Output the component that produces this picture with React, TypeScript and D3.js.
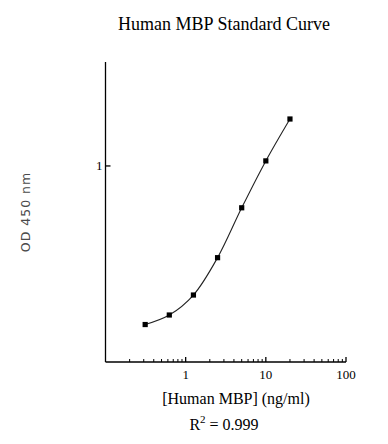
import React from 'react';
import { scaleLog, line, curveCatmullRom } from 'd3';

const concentrations = [0.3125, 0.625, 1.25, 2.5, 5, 10, 20];
const odValues = [0.192, 0.212, 0.261, 0.385, 0.647, 1.054, 1.63];
const xMajorTicks = [1, 10, 100];
const xTickLabels = ['1', '10', '100'];
const yMajorTicks = [1];
const yTickLabels = ['1'];

const width = 388;
const height = 444;
const margin = { top: 62, right: 42, bottom: 82, left: 105.5 };
const font = '"Liberation Serif", "Times New Roman", serif';

const App: React.FC = () => {
    const xScale = scaleLog()
        .domain([0.1, 100])
        .range([margin.left, width - margin.right]);

    const yScale = scaleLog()
        .domain([0.13, 2.95])
        .range([height - margin.bottom, margin.top]);

    // minor ticks 2..9 in each decade
    const xMinor: number[] = [];
    [0.1, 1, 10].forEach(d => {
        for (let k = 2; k <= 9; k++) xMinor.push(d * k);
    });

    const pts = concentrations.map((c, i) => [xScale(c), yScale(odValues[i])] as [number, number]);
    const curve = line<[number, number]>()
        .x(d => d[0])
        .y(d => d[1])
        .curve(curveCatmullRom.alpha(0.5));

    const x0 = margin.left;
    const y0 = height - margin.bottom;

    return (
        <svg width={width} height={height} style={{ position: 'absolute', left: 0, top: 0, background: '#fff' }}>
            <text x={224} y={30} textAnchor="middle" fontFamily={font} fontSize={18}>
                Human MBP Standard Curve
            </text>

            {/* axes */}
            <g stroke="#000" strokeWidth={1.3} fill="none">
                <line x1={x0} y1={margin.top} x2={x0} y2={y0} />
                <line x1={x0} y1={y0} x2={xScale(100)} y2={y0} />
                {xMajorTicks.map(t => (
                    <line key={t} x1={xScale(t)} x2={xScale(t)} y1={y0} y2={y0 - 5} />
                ))}
                {xMinor.map(t => (
                    <line key={t} x1={xScale(t)} x2={xScale(t)} y1={y0} y2={y0 - 3} strokeWidth={1} />
                ))}
                {yMajorTicks.map(t => (
                    <line key={t} x1={x0} x2={x0 + 5} y1={yScale(t)} y2={yScale(t)} />
                ))}
            </g>

            {xMajorTicks.map((t, i) => (
                <text key={t} x={xScale(t)} y={y0 + 17} textAnchor="middle" fontFamily={font} fontSize={13}>
                    {xTickLabels[i]}
                </text>
            ))}
            {yMajorTicks.map((t, i) => (
                <text key={t} x={x0 - 3} y={yScale(t) + 4.5} textAnchor="end" fontFamily={font} fontSize={13}>
                    {yTickLabels[i]}
                </text>
            ))}

            {/* fitted curve */}
            <path d={curve(pts) || ''} fill="none" stroke="#222" strokeWidth={1.1} />

            {pts.map((p, i) => (
                <rect key={i} x={p[0] - 2.6} y={p[1] - 2.6} width={5.2} height={5.2} fill="#000" />
            ))}

            <text
                transform={`translate(${30},${212}) rotate(-90)`}
                textAnchor="middle"
                fontFamily='"DejaVu Sans", sans-serif'
                fontSize={12.5}
                letterSpacing={1}
                fill="#4a4a4a"
            >
                OD 450 nm
            </text>

            <text x={236} y={404} textAnchor="middle" fontFamily={font} fontSize={16}>
                [Human MBP] (ng/ml)
            </text>
            <text x={224} y={430} textAnchor="middle" fontFamily={font} fontSize={16}>
                R<tspan fontSize={11} dy={-7}>2</tspan>
                <tspan dy={7}> = 0.999</tspan>
            </text>
        </svg>
    );
};

export default App;
